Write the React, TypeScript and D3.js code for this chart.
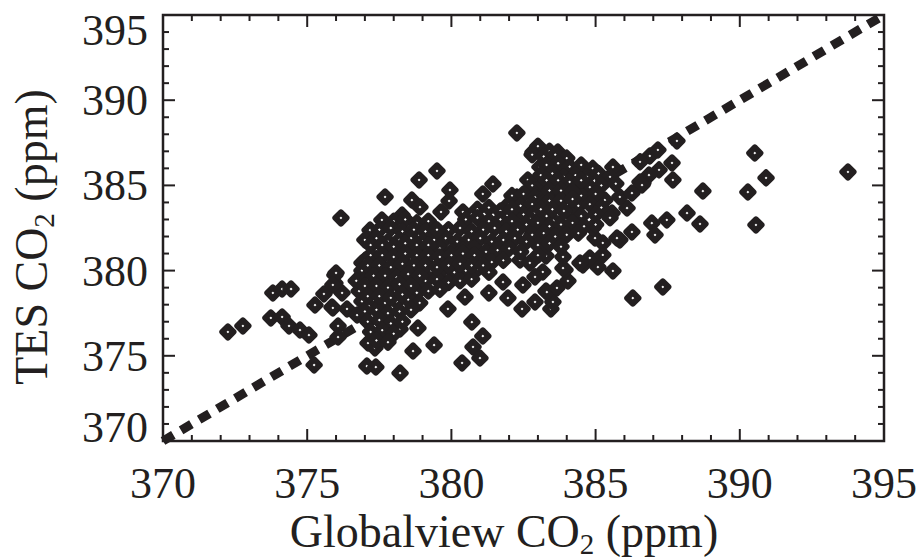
import React from 'react';
import * as d3 from 'd3';

const W = 922;
const H = 560;
const INK = '#231f20';
const FONT = '"Liberation Serif", "Times New Roman", serif';

const xTicks = [370, 375, 380, 385, 390, 395];
const yTicks = [370, 375, 380, 385, 390, 395];
const axisDomain: [number, number] = [370, 395];
const xTitle = 'Globalview CO';
const yTitle = 'TES CO';

// [Globalview CO2, TES CO2] in ppm
const outliers: [number, number][] = [
  [372.25, 376.4], [372.77, 376.75], [373.81, 378.69], [374.13, 378.92], [374.44, 378.92], [373.74, 377.22],
  [374.13, 377.28], [374.37, 376.75], [374.75, 376.51], [375.06, 376.22], [375.24, 374.46], [375.27, 377.98],
  [375.58, 378.63], [375.96, 379.74], [375.96, 379.27], [376.21, 378.69], [375.86, 377.86], [376.38, 377.75],
  [376.73, 377.39], [376.07, 376.75], [376.07, 376.1], [376.17, 383.09], [377.11, 375.75], [377.35, 375.46],
  [377.07, 374.4], [377.38, 374.34], [378.22, 373.99], [378.67, 375.28], [379.4, 375.63], [378.22, 376.57],
  [378.84, 376.63], [379.88, 377.75], [380.47, 378.45], [380.71, 376.98], [381.09, 376.16], [380.75, 375.52],
  [380.99, 374.87], [380.37, 374.58], [379.74, 379.27], [381.3, 378.69], [381.96, 378.39], [382.45, 377.75],
  [382.9, 378.16], [383.28, 378.8], [383.45, 377.75], [382.48, 379.16], [383.52, 378.16], [383.31, 378.74],
  [383.66, 378.98], [384.04, 379.39], [383.94, 380.04], [383.87, 380.8], [383.28, 380.86], [384.56, 380.33],
  [385.08, 380.21], [384.8, 380.74], [385.25, 380.92], [385.6, 379.98], [386.29, 378.39], [387.33, 379.04],
  [384.46, 380.45], [384.98, 381.91], [385.84, 381.8], [386.26, 382.27], [385.74, 381.91], [385.25, 381.62],
  [386.95, 382.79], [387.06, 382.09], [387.47, 382.97], [388.17, 383.38], [388.62, 382.74], [388.72, 384.67],
  [387.68, 385.32], [387.65, 386.32], [387.2, 385.91], [386.88, 386.73], [387.16, 387.08], [386.85, 385.61],
  [386.64, 385.14], [386.54, 385.2], [386.09, 383.67], [385.57, 383.38], [385.32, 384.14], [385.84, 384.32],
  [385.6, 386.08], [384.53, 385.49], [390.52, 386.9], [390.91, 385.44], [390.28, 384.61], [390.56, 382.68],
  [393.75, 385.79], [384.91, 382.5], [382.27, 388.08], [382.83, 386.96], [383.69, 386.96], [383.07, 386.08],
  [382.65, 385.32], [383.04, 384.5], [383.76, 386.2], [384.01, 385.73], [379.5, 385.85], [378.88, 385.32],
  [377.7, 384.32], [378.63, 384.14], [378.91, 383.73], [379.95, 384.73], [379.92, 384.09], [379.64, 383.44],
  [380.4, 383.44], [381.09, 384.5], [381.44, 385.08], [382.27, 384.32], [381.93, 383.79], [377.59, 382.97],
  [377.18, 382.38], [378.29, 383.26], [376.9, 380.45], [376.0, 379.86], [375.89, 379.16], [375.89, 377.81],
  [381.79, 379.33], [382.38, 380.62], [382.72, 380.45], [383.17, 379.92], [382.9, 379.63], [383.87, 380.15],
  [387.82, 387.61], [383.76, 384.9], [384.35, 385.02], [386.61, 385.02], [386.26, 384.55], [383.07, 382.85],
  [386.54, 386.38],
];

const upperCluster: [number, number][] = [
  [383.0, 387.3], [383.4, 387.0],
  [382.8, 386.8], [383.2, 386.7], [383.6, 386.8], [384.0, 386.6],
  [383.3, 386.2], [383.7, 386.3], [384.1, 386.1], [384.5, 386.2], [384.9, 386.0],
  [383.1, 385.6], [383.5, 385.7], [383.9, 385.5], [384.3, 385.6], [384.7, 385.5], [385.1, 385.7], [385.5, 385.5],
  [382.8, 385.0], [383.2, 385.1], [383.6, 384.9], [384.0, 385.0], [384.4, 385.1], [384.8, 384.9], [385.2, 385.0], [385.7, 385.1],
  [382.1, 384.4], [382.5, 384.5], [382.9, 384.3], [383.3, 384.4], [383.7, 384.5], [384.1, 384.3], [384.5, 384.4], [385.0, 384.5],
  [382.0, 383.9], [382.4, 383.8], [382.8, 383.9], [383.2, 384.0], [383.6, 383.8], [384.0, 383.9], [384.4, 383.8], [384.8, 383.9], [385.2, 383.7],
  [382.5, 383.3], [382.9, 383.4], [383.3, 383.2], [383.7, 383.3], [384.1, 383.4], [384.5, 383.2], [385.0, 383.3], [385.5, 383.1],
  [382.6, 382.7], [383.0, 382.8], [383.4, 382.6], [383.8, 382.7], [384.2, 382.8], [384.6, 382.6], [385.0, 382.7],
  [382.8, 382.1], [383.2, 382.2], [383.6, 382.0], [384.0, 382.1], [384.4, 382.2],
  [383.0, 381.5], [383.4, 381.6], [383.8, 381.4],
  [383.0, 380.9],
];

const centralBand: [number, number][] = [
  [380.9, 383.6], [381.3, 383.7], [381.7, 383.5], [382.1, 383.6],
  [380.5, 383.0], [380.9, 383.1], [381.3, 382.9], [381.7, 383.0], [382.1, 382.9],
  [379.9, 382.4], [380.3, 382.5], [380.7, 382.3], [381.1, 382.4], [381.5, 382.5], [381.9, 382.3], [382.3, 382.4],
  [379.4, 381.8], [379.8, 381.9], [380.2, 381.7], [380.6, 381.8], [381.0, 381.9], [381.4, 381.7], [381.8, 381.8], [382.2, 381.9], [382.6, 381.7],
  [378.0, 381.2], [378.4, 381.3], [378.8, 381.1], [379.2, 381.2], [379.6, 381.3], [380.0, 381.1], [380.4, 381.2], [380.8, 381.3],
  [381.2, 381.1], [381.6, 381.2], [382.0, 381.3], [382.4, 381.1],
  [377.0, 380.6], [377.4, 380.7], [377.8, 380.5], [378.2, 380.6], [378.6, 380.7], [379.0, 380.5], [379.4, 380.6], [379.8, 380.7],
  [380.2, 380.5], [380.6, 380.6], [381.0, 380.7], [381.4, 380.5], [381.8, 380.6],
  [376.9, 380.0], [377.3, 380.1], [377.7, 379.9], [378.1, 380.0], [378.5, 380.1], [378.9, 379.9], [379.3, 380.0], [379.7, 380.1],
  [380.1, 379.9], [380.5, 380.0], [380.9, 380.1], [381.3, 379.9],
];

const leftUpper: [number, number][] = [
  [378.0, 382.9], [378.4, 383.0], [378.8, 382.8], [379.2, 382.9],
  [377.5, 382.4], [377.9, 382.5], [378.3, 382.3], [378.7, 382.4], [379.1, 382.3], [379.5, 382.4],
  [377.0, 381.8], [377.4, 381.9], [377.8, 381.7], [378.2, 381.8], [378.6, 381.9], [379.0, 381.7],
];

const lowerCluster: [number, number][] = [
  [376.7, 379.4], [377.1, 379.5], [377.5, 379.3], [377.9, 379.4], [378.3, 379.5], [378.7, 379.3], [379.1, 379.4], [379.5, 379.5],
  [379.9, 379.3], [380.3, 379.4], [380.7, 379.5],
  [376.8, 378.8], [377.2, 378.9], [377.6, 378.7], [378.0, 378.8], [378.4, 378.9], [378.8, 378.7], [379.2, 378.8], [379.6, 378.9],
  [376.9, 378.2], [377.3, 378.3], [377.7, 378.1], [378.1, 378.2], [378.5, 378.3], [378.9, 378.1],
  [377.0, 377.6], [377.4, 377.7], [377.8, 377.5], [378.2, 377.6], [378.6, 377.7],
  [377.1, 377.0], [377.5, 377.1], [377.9, 376.9], [378.3, 377.0],
  [377.2, 376.4], [377.6, 376.5], [378.0, 376.3],
  [377.4, 375.9], [377.8, 375.8],
];

const denseCore: [number, number][] = [
  [377.2, 381.5], [377.6, 381.5], [378.0, 381.4], [378.4, 381.6], [378.8, 381.5], [379.2, 381.5],
  [377.2, 380.9], [377.6, 380.9], [378.0, 380.8], [378.4, 381.0], [378.8, 380.9], [379.2, 380.9], [379.6, 380.8],
  [380.0, 380.9], [380.4, 381.0], [380.8, 380.9],
  [377.1, 380.3], [377.5, 380.3], [377.9, 380.2], [378.3, 380.4], [378.7, 380.3], [379.1, 380.3], [379.5, 380.2],
  [379.9, 380.3], [380.3, 380.4], [380.7, 380.3], [381.1, 380.3],
  [377.3, 379.7], [377.7, 379.7], [378.1, 379.6], [378.5, 379.8], [378.9, 379.7],
  [377.0, 379.1], [377.4, 379.1], [377.8, 379.0], [378.2, 379.2], [378.6, 379.1],
  [377.1, 378.5], [377.5, 378.5], [377.9, 378.4], [378.3, 378.6],
  [383.3, 385.3], [383.7, 385.3], [384.1, 385.2], [384.5, 385.3],
  [383.4, 384.7], [383.8, 384.7], [384.2, 384.6],
  [383.4, 384.1], [383.8, 384.1], [384.2, 384.2],
  [383.1, 383.6], [383.5, 383.6], [383.9, 383.5],
];

const allPoints = [...outliers, ...upperCluster, ...centralBand, ...leftUpper, ...lowerCluster, ...denseCore];

export default function App() {
  const left = 163, right = 884, top = 15, bottom = 441;
  const x = d3.scaleLinear().domain(axisDomain).range([left, right]);
  const y = d3.scaleLinear().domain(axisDomain).range([bottom, top]);
  const minor = d3.range(axisDomain[0], axisDomain[1] + 1, 1).filter((v) => v % 5 !== 0);
  const MAJ = 12, MIN = 6;
  const r = 5.6;
  const diamond = `M0,${-r}L${r},0L0,${r}L${-r},0Z`;

  return (
    <svg width={W} height={H} style={{ position: 'absolute', left: 0, top: 0, background: '#fff' }}>
      <rect x={0} y={0} width={W} height={H} fill="#fff" />
      {/* 1:1 line */}
      <line x1={x(370)} y1={y(370)} x2={x(395)} y2={y(395)} stroke={INK} strokeWidth={9} strokeDasharray="12 9" />
      {/* points */}
      <g>
        {allPoints.map(([gv, tes], i) => (
          <path key={i} d={diamond} transform={`translate(${x(gv)},${y(tes)})`} fill="#fff" stroke={INK}
            strokeWidth={6} strokeLinejoin="round" />
        ))}
      </g>
      {/* frame */}
      <rect x={left} y={top} width={right - left} height={bottom - top} fill="none" stroke={INK} strokeWidth={2.5} />
      {/* ticks */}
      <g stroke={INK} strokeWidth={2}>
        {xTicks.map((v) => (
          <g key={'xM' + v}>
            <line x1={x(v)} x2={x(v)} y1={bottom} y2={bottom - MAJ} />
            <line x1={x(v)} x2={x(v)} y1={top} y2={top + MAJ} />
          </g>
        ))}
        {minor.map((v) => (
          <g key={'xm' + v}>
            <line x1={x(v)} x2={x(v)} y1={bottom} y2={bottom - MIN} />
            <line x1={x(v)} x2={x(v)} y1={top} y2={top + MIN} />
          </g>
        ))}
        {yTicks.map((v) => (
          <g key={'yM' + v}>
            <line y1={y(v)} y2={y(v)} x1={left} x2={left + MAJ} />
            <line y1={y(v)} y2={y(v)} x1={right} x2={right - MAJ} />
          </g>
        ))}
        {minor.map((v) => (
          <g key={'ym' + v}>
            <line y1={y(v)} y2={y(v)} x1={left} x2={left + MIN} />
            <line y1={y(v)} y2={y(v)} x1={right} x2={right - MIN} />
          </g>
        ))}
      </g>
      {/* tick labels */}
      <g fontFamily={FONT} fontSize={44} fill={INK}>
        {xTicks.map((v) => (
          <text key={'xl' + v} x={x(v)} y={498} textAnchor="middle">{v}</text>
        ))}
        {yTicks.map((v) => (
          <text key={'yl' + v} x={148} y={Math.min(Math.max(y(v) + 15, top + 30), bottom + 1)} textAnchor="end">{v}</text>
        ))}
      </g>
      {/* axis titles */}
      <text x={504} y={547} textAnchor="middle" fontFamily={FONT} fontSize={46} fill={INK}>
        {xTitle}
        <tspan fontSize={29} dy={7}>2</tspan>
        <tspan dy={-7}> (ppm)</tspan>
      </text>
      <text transform="translate(47,237) rotate(-90)" textAnchor="middle" fontFamily={FONT} fontSize={46} fill={INK}>
        {yTitle}
        <tspan fontSize={29} dy={7}>2</tspan>
        <tspan dy={-7}> (ppm)</tspan>
      </text>
    </svg>
  );
}
